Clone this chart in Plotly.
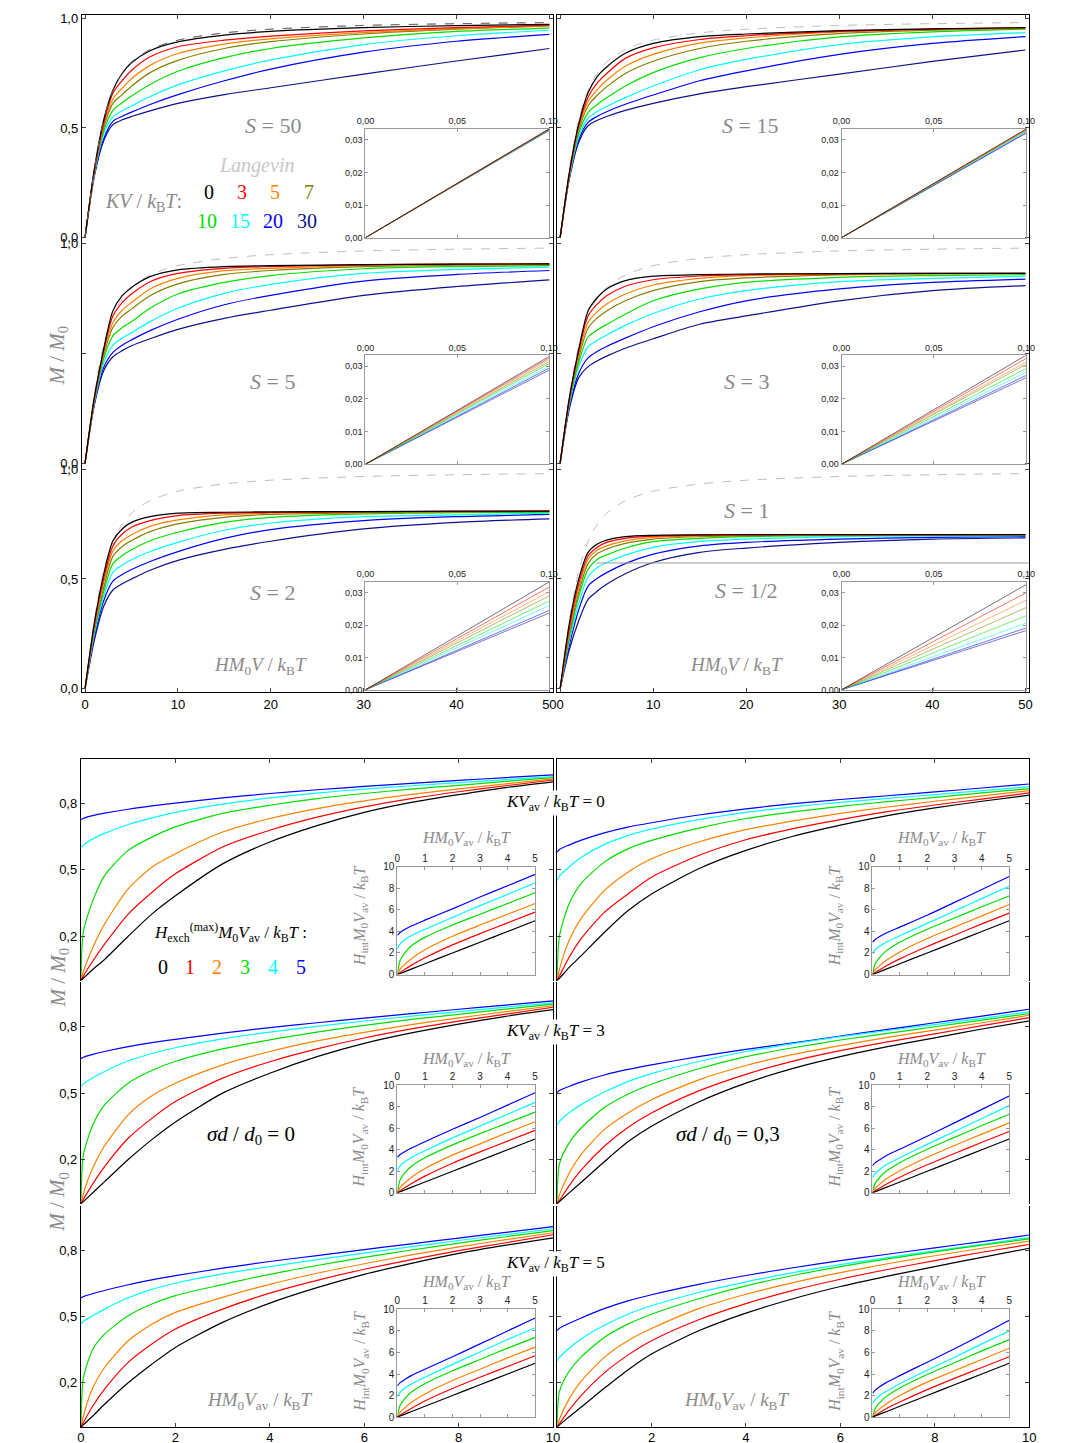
import plotly.graph_objects as go

# Figure size; page pixels of the target are mapped onto figure pixels below.
W, H = 1066, 1449
SCALE = 0.985   # page-to-photo scale observed for this viewer
OFF = 8         # default html body margin

# ---------------- top block data (M/M0 vs HM0V/kBT) ----------------
XT = [0, 1, 2, 3, 4, 5, 7, 10, 15, 20, 30, 40, 50]
KV_LABELS = ["0", "3", "5", "7", "10", "15", "20", "30"]
KV_COLORS = ["#000000", "#ff0000", "#ff8000", "#808000", "#00e000", "#00ffff", "#0000ff", "#10108c"]
LANGEVIN = [0, 0.313, 0.537, 0.672, 0.75, 0.8, 0.857, 0.9, 0.933, 0.95, 0.967, 0.975, 0.98]

S50 = [
    [0, 0.312, 0.535, 0.672, 0.749, 0.797, 0.852, 0.892, 0.923, 0.94, 0.957, 0.966, 0.972],
    [0, 0.305, 0.52, 0.658, 0.716, 0.762, 0.824, 0.87, 0.9, 0.918, 0.942, 0.957, 0.968],
    [0, 0.30, 0.51, 0.632, 0.681, 0.724, 0.785, 0.839, 0.882, 0.906, 0.934, 0.952, 0.966],
    [0, 0.30, 0.50, 0.612, 0.652, 0.69, 0.752, 0.808, 0.862, 0.893, 0.928, 0.95, 0.965],
    [0, 0.295, 0.485, 0.58, 0.615, 0.645, 0.698, 0.758, 0.82, 0.862, 0.91, 0.94, 0.955],
    [0, 0.29, 0.47, 0.55, 0.578, 0.60, 0.643, 0.696, 0.76, 0.81, 0.88, 0.92, 0.945],
    [0, 0.285, 0.45, 0.53, 0.553, 0.572, 0.607, 0.652, 0.715, 0.768, 0.845, 0.895, 0.926],
    [0, 0.28, 0.44, 0.515, 0.537, 0.552, 0.578, 0.612, 0.652, 0.683, 0.745, 0.805, 0.862],
]
S15 = [
    [0, 0.30, 0.52, 0.66, 0.735, 0.778, 0.84, 0.885, 0.916, 0.928, 0.943, 0.951, 0.957],
    [0, 0.295, 0.51, 0.64, 0.705, 0.748, 0.817, 0.865, 0.903, 0.92, 0.94, 0.95, 0.957],
    [0, 0.29, 0.50, 0.62, 0.675, 0.717, 0.781, 0.835, 0.886, 0.91, 0.937, 0.949, 0.956],
    [0, 0.29, 0.49, 0.60, 0.65, 0.687, 0.748, 0.804, 0.862, 0.895, 0.93, 0.945, 0.954],
    [0, 0.285, 0.475, 0.57, 0.607, 0.637, 0.691, 0.752, 0.82, 0.862, 0.915, 0.938, 0.95],
    [0, 0.28, 0.46, 0.543, 0.575, 0.598, 0.638, 0.691, 0.765, 0.812, 0.88, 0.915, 0.934],
    [0, 0.275, 0.445, 0.525, 0.553, 0.574, 0.608, 0.65, 0.715, 0.76, 0.835, 0.885, 0.916],
    [0, 0.27, 0.435, 0.51, 0.535, 0.552, 0.58, 0.612, 0.655, 0.688, 0.745, 0.803, 0.855],
]
S5 = [
    [0, 0.30, 0.52, 0.694, 0.763, 0.801, 0.85, 0.881, 0.896, 0.9, 0.905, 0.907, 0.908],
    [0, 0.295, 0.51, 0.671, 0.732, 0.771, 0.827, 0.865, 0.888, 0.896, 0.904, 0.907, 0.908],
    [0, 0.29, 0.50, 0.64, 0.697, 0.732, 0.794, 0.842, 0.877, 0.888, 0.901, 0.906, 0.908],
    [0, 0.285, 0.49, 0.618, 0.671, 0.702, 0.763, 0.817, 0.86, 0.878, 0.896, 0.902, 0.905],
    [0, 0.28, 0.475, 0.58, 0.618, 0.645, 0.706, 0.771, 0.824, 0.855, 0.886, 0.896, 0.9],
    [0, 0.275, 0.455, 0.538, 0.57, 0.595, 0.645, 0.706, 0.774, 0.815, 0.865, 0.883, 0.893],
    [0, 0.27, 0.435, 0.505, 0.538, 0.562, 0.604, 0.656, 0.722, 0.765, 0.83, 0.86, 0.878],
    [0, 0.265, 0.42, 0.485, 0.513, 0.535, 0.567, 0.61, 0.66, 0.697, 0.765, 0.805, 0.835],
]
S3 = [
    [0, 0.30, 0.52, 0.694, 0.755, 0.794, 0.832, 0.852, 0.859, 0.862, 0.864, 0.865, 0.865],
    [0, 0.295, 0.51, 0.671, 0.726, 0.763, 0.806, 0.836, 0.853, 0.859, 0.863, 0.865, 0.865],
    [0, 0.29, 0.495, 0.641, 0.69, 0.725, 0.771, 0.812, 0.842, 0.855, 0.862, 0.864, 0.865],
    [0, 0.285, 0.48, 0.615, 0.662, 0.694, 0.74, 0.786, 0.827, 0.844, 0.858, 0.863, 0.865],
    [0, 0.28, 0.46, 0.575, 0.607, 0.632, 0.679, 0.74, 0.794, 0.824, 0.847, 0.855, 0.859],
    [0, 0.27, 0.44, 0.53, 0.56, 0.584, 0.628, 0.682, 0.748, 0.786, 0.827, 0.842, 0.852],
    [0, 0.26, 0.41, 0.48, 0.51, 0.532, 0.57, 0.622, 0.69, 0.74, 0.794, 0.824, 0.839],
    [0, 0.25, 0.39, 0.44, 0.467, 0.488, 0.524, 0.567, 0.633, 0.671, 0.74, 0.786, 0.809],
]
S2 = [
    [0, 0.30, 0.52, 0.674, 0.728, 0.758, 0.784, 0.80, 0.804, 0.806, 0.807, 0.809, 0.809],
    [0, 0.29, 0.50, 0.651, 0.705, 0.736, 0.766, 0.789, 0.80, 0.803, 0.806, 0.808, 0.809],
    [0, 0.28, 0.48, 0.628, 0.674, 0.702, 0.74, 0.769, 0.792, 0.80, 0.805, 0.807, 0.809],
    [0, 0.27, 0.46, 0.603, 0.648, 0.675, 0.716, 0.751, 0.781, 0.794, 0.802, 0.806, 0.808],
    [0, 0.26, 0.44, 0.57, 0.607, 0.633, 0.674, 0.713, 0.758, 0.781, 0.797, 0.802, 0.804],
    [0, 0.25, 0.42, 0.53, 0.563, 0.588, 0.625, 0.667, 0.722, 0.755, 0.784, 0.792, 0.80],
    [0, 0.235, 0.40, 0.49, 0.52, 0.543, 0.58, 0.625, 0.685, 0.725, 0.766, 0.784, 0.794],
    [0, 0.22, 0.375, 0.45, 0.478, 0.5, 0.54, 0.585, 0.635, 0.672, 0.728, 0.758, 0.774],
]
S1 = [
    [0, 0.30, 0.50, 0.621, 0.659, 0.677, 0.693, 0.699, 0.701, 0.702, 0.702, 0.702, 0.702],
    [0, 0.28, 0.48, 0.605, 0.645, 0.667, 0.685, 0.695, 0.70, 0.701, 0.702, 0.702, 0.702],
    [0, 0.265, 0.46, 0.59, 0.632, 0.651, 0.674, 0.69, 0.696, 0.70, 0.701, 0.702, 0.702],
    [0, 0.25, 0.44, 0.57, 0.616, 0.636, 0.662, 0.682, 0.693, 0.698, 0.70, 0.701, 0.702],
    [0, 0.235, 0.42, 0.544, 0.59, 0.61, 0.641, 0.67, 0.685, 0.693, 0.698, 0.70, 0.701],
    [0, 0.22, 0.39, 0.509, 0.552, 0.575, 0.609, 0.644, 0.671, 0.682, 0.693, 0.696, 0.697],
    [0, 0.20, 0.36, 0.468, 0.503, 0.529, 0.57, 0.613, 0.651, 0.667, 0.682, 0.69, 0.693],
    [0, 0.18, 0.31, 0.407, 0.445, 0.476, 0.524, 0.575, 0.621, 0.641, 0.667, 0.682, 0.687],
]

# inset lines (initial slope region), value reached at x = 0.10
INS_X = [0.0, 0.10]
INS_END_S50 = [0.0333, 0.0333, 0.0332, 0.0332, 0.0331, 0.0330, 0.0330, 0.0328]
INS_END_S15 = [0.0333, 0.0332, 0.0330, 0.0329, 0.0327, 0.0325, 0.0322, 0.0320]
INS_END_S5 = [0.0330, 0.0325, 0.0320, 0.0314, 0.0308, 0.0300, 0.0294, 0.0288]
INS_END_S3 = [0.0334, 0.0324, 0.0313, 0.0306, 0.0293, 0.0282, 0.0272, 0.0265]
INS_END_S2 = [0.0333, 0.0317, 0.0303, 0.0290, 0.0274, 0.0260, 0.0245, 0.0237]
INS_END_S1 = [0.0325, 0.0300, 0.0277, 0.0254, 0.0229, 0.0206, 0.0191, 0.0183]

# ---------------- bottom block data ----------------
XB = [0, 0.05, 0.25, 0.5, 1, 1.5, 2, 3, 4, 5, 6, 7, 8, 9, 10]
HEX_LABELS = ["0", "1", "2", "3", "4", "5"]
HEX_COLORS = ["#000000", "#ff0000", "#ff8000", "#00dd00", "#00ffff", "#0000ff"]

B_K0_S0 = [
    [0, 0.01, 0.05, 0.095, 0.2, 0.3, 0.383, 0.527, 0.626, 0.70, 0.76, 0.805, 0.84, 0.872, 0.898],
    [0, 0.02, 0.088, 0.164, 0.3, 0.398, 0.482, 0.603, 0.679, 0.738, 0.785, 0.822, 0.853, 0.88, 0.906],
    [0, 0.04, 0.148, 0.255, 0.414, 0.512, 0.573, 0.671, 0.732, 0.777, 0.812, 0.841, 0.866, 0.889, 0.911],
    [0, 0.22, 0.36, 0.474, 0.588, 0.648, 0.694, 0.755, 0.792, 0.822, 0.845, 0.865, 0.882, 0.9, 0.917],
    [0.6, 0.612, 0.64, 0.665, 0.705, 0.735, 0.76, 0.797, 0.825, 0.847, 0.865, 0.88, 0.894, 0.908, 0.921],
    [0.727, 0.733, 0.745, 0.756, 0.774, 0.789, 0.802, 0.825, 0.845, 0.862, 0.877, 0.891, 0.904, 0.917, 0.929],
]
B_K0_S03 = [
    [0, 0.01, 0.058, 0.11, 0.217, 0.315, 0.391, 0.505, 0.588, 0.652, 0.702, 0.745, 0.78, 0.81, 0.838],
    [0, 0.02, 0.103, 0.186, 0.308, 0.391, 0.467, 0.565, 0.636, 0.686, 0.727, 0.763, 0.793, 0.82, 0.848],
    [0, 0.05, 0.179, 0.277, 0.406, 0.489, 0.55, 0.626, 0.682, 0.721, 0.755, 0.784, 0.81, 0.834, 0.858],
    [0, 0.2, 0.345, 0.436, 0.535, 0.595, 0.633, 0.689, 0.732, 0.762, 0.787, 0.808, 0.828, 0.848, 0.867],
    [0.452, 0.472, 0.512, 0.555, 0.615, 0.655, 0.684, 0.727, 0.76, 0.785, 0.805, 0.823, 0.84, 0.858, 0.876],
    [0.58, 0.592, 0.612, 0.633, 0.667, 0.693, 0.713, 0.748, 0.776, 0.799, 0.818, 0.835, 0.852, 0.87, 0.888],
]
B_K3_S0 = [
    [0, 0.01, 0.05, 0.1, 0.2, 0.29, 0.37, 0.5, 0.59, 0.665, 0.725, 0.772, 0.812, 0.847, 0.877],
    [0, 0.02, 0.09, 0.168, 0.296, 0.386, 0.462, 0.568, 0.642, 0.7, 0.749, 0.79, 0.825, 0.857, 0.888],
    [0, 0.045, 0.163, 0.262, 0.402, 0.488, 0.545, 0.628, 0.688, 0.736, 0.775, 0.81, 0.84, 0.868, 0.895],
    [0, 0.22, 0.356, 0.447, 0.545, 0.602, 0.644, 0.7, 0.741, 0.776, 0.806, 0.833, 0.856, 0.88, 0.902],
    [0.53, 0.542, 0.57, 0.598, 0.645, 0.679, 0.705, 0.745, 0.776, 0.802, 0.826, 0.848, 0.868, 0.889, 0.908],
    [0.655, 0.662, 0.675, 0.688, 0.71, 0.728, 0.743, 0.771, 0.796, 0.818, 0.839, 0.859, 0.879, 0.898, 0.917],
]
B_K3_S03 = [
    [0, 0.01, 0.048, 0.095, 0.19, 0.28, 0.35, 0.46, 0.545, 0.612, 0.665, 0.71, 0.75, 0.79, 0.826],
    [0, 0.015, 0.08, 0.15, 0.26, 0.345, 0.41, 0.51, 0.585, 0.645, 0.692, 0.732, 0.768, 0.805, 0.841],
    [0, 0.04, 0.136, 0.22, 0.335, 0.41, 0.47, 0.56, 0.625, 0.675, 0.715, 0.752, 0.785, 0.818, 0.852],
    [0, 0.18, 0.273, 0.34, 0.435, 0.495, 0.54, 0.61, 0.665, 0.705, 0.74, 0.77, 0.8, 0.83, 0.859],
    [0.356, 0.372, 0.41, 0.447, 0.505, 0.552, 0.588, 0.643, 0.688, 0.724, 0.755, 0.783, 0.81, 0.838, 0.867],
    [0.503, 0.512, 0.53, 0.55, 0.582, 0.607, 0.628, 0.665, 0.698, 0.727, 0.758, 0.788, 0.818, 0.848, 0.879],
]
B_K5_S0 = [
    [0, 0.01, 0.05, 0.103, 0.2, 0.284, 0.36, 0.473, 0.56, 0.63, 0.69, 0.74, 0.785, 0.822, 0.855],
    [0, 0.02, 0.095, 0.171, 0.292, 0.375, 0.443, 0.533, 0.605, 0.663, 0.713, 0.757, 0.797, 0.833, 0.869],
    [0, 0.05, 0.178, 0.269, 0.39, 0.465, 0.518, 0.586, 0.645, 0.695, 0.738, 0.778, 0.814, 0.847, 0.878],
    [0, 0.22, 0.352, 0.42, 0.503, 0.556, 0.594, 0.644, 0.69, 0.73, 0.767, 0.8, 0.831, 0.86, 0.888],
    [0.465, 0.478, 0.503, 0.533, 0.584, 0.622, 0.65, 0.692, 0.725, 0.757, 0.786, 0.815, 0.843, 0.87, 0.896],
    [0.583, 0.59, 0.603, 0.617, 0.643, 0.665, 0.684, 0.718, 0.748, 0.775, 0.802, 0.828, 0.854, 0.88, 0.906],
]
B_K5_S03 = [
    [0, 0.01, 0.045, 0.088, 0.175, 0.258, 0.33, 0.435, 0.515, 0.58, 0.635, 0.682, 0.725, 0.767, 0.808],
    [0, 0.015, 0.075, 0.14, 0.245, 0.325, 0.39, 0.485, 0.558, 0.618, 0.668, 0.712, 0.752, 0.79, 0.825],
    [0, 0.035, 0.125, 0.205, 0.315, 0.39, 0.445, 0.535, 0.6, 0.653, 0.698, 0.738, 0.774, 0.808, 0.84],
    [0, 0.16, 0.25, 0.315, 0.405, 0.465, 0.51, 0.58, 0.638, 0.685, 0.725, 0.76, 0.792, 0.822, 0.85],
    [0.3, 0.315, 0.355, 0.397, 0.46, 0.51, 0.548, 0.608, 0.656, 0.698, 0.734, 0.766, 0.796, 0.826, 0.856],
    [0.436, 0.446, 0.468, 0.492, 0.535, 0.57, 0.598, 0.645, 0.685, 0.72, 0.752, 0.781, 0.81, 0.838, 0.868],
]

# bottom insets: Hint M0 Vav / kBT vs H M0 Vav / kBT
XI = [0, 0.1, 0.25, 0.5, 1, 2, 3, 4, 5]
I_K0_S0 = [
    [0, 0.1, 0.25, 0.5, 1, 2, 3, 4, 5],
    [0, 0.2, 0.45, 0.85, 1.55, 2.75, 3.8, 4.8, 5.8],
    [0, 0.5, 0.9, 1.45, 2.3, 3.55, 4.6, 5.6, 6.6],
    [0, 1.3, 1.95, 2.65, 3.45, 4.6, 5.6, 6.6, 7.6],
    [2.4, 2.85, 3.2, 3.6, 4.2, 5.3, 6.4, 7.45, 8.5],
    [3.65, 3.9, 4.15, 4.5, 5.05, 6.1, 7.2, 8.25, 9.3],
]
I_K0_S03 = [
    [0, 0.1, 0.25, 0.5, 1, 2, 3, 4, 5],
    [0, 0.18, 0.42, 0.8, 1.45, 2.6, 3.65, 4.7, 5.7],
    [0, 0.45, 0.8, 1.3, 2.1, 3.35, 4.4, 5.45, 6.5],
    [0, 1.0, 1.55, 2.2, 3.0, 4.2, 5.25, 6.3, 7.3],
    [1.9, 2.3, 2.6, 3.0, 3.6, 4.75, 5.9, 7.05, 8.2],
    [3.0, 3.25, 3.5, 3.85, 4.4, 5.5, 6.7, 7.9, 9.1],
]
I_K3_S0 = [
    [0, 0.1, 0.25, 0.5, 1, 2, 3, 4, 5],
    [0, 0.2, 0.45, 0.85, 1.55, 2.75, 3.8, 4.8, 5.8],
    [0, 0.5, 0.88, 1.42, 2.25, 3.5, 4.55, 5.6, 6.6],
    [0, 1.2, 1.8, 2.45, 3.25, 4.45, 5.5, 6.5, 7.5],
    [2.1, 2.5, 2.85, 3.25, 3.9, 5.1, 6.2, 7.3, 8.4],
    [3.3, 3.55, 3.8, 4.15, 4.75, 5.9, 7.0, 8.15, 9.3],
]
I_K3_S03 = [
    [0, 0.1, 0.25, 0.5, 1, 2, 3, 4, 5],
    [0, 0.18, 0.42, 0.8, 1.45, 2.6, 3.65, 4.7, 5.7],
    [0, 0.42, 0.78, 1.28, 2.05, 3.3, 4.4, 5.45, 6.5],
    [0, 0.9, 1.4, 2.0, 2.8, 4.05, 5.15, 6.25, 7.3],
    [1.4, 1.8, 2.15, 2.6, 3.25, 4.5, 5.7, 6.9, 8.1],
    [2.5, 2.8, 3.05, 3.45, 4.05, 5.25, 6.5, 7.75, 9.0],
]
I_K5_S0 = [
    [0, 0.1, 0.25, 0.5, 1, 2, 3, 4, 5],
    [0, 0.18, 0.42, 0.8, 1.5, 2.65, 3.7, 4.7, 5.7],
    [0, 0.45, 0.82, 1.35, 2.15, 3.4, 4.45, 5.5, 6.5],
    [0, 1.1, 1.65, 2.3, 3.1, 4.3, 5.35, 6.4, 7.4],
    [1.9, 2.3, 2.65, 3.05, 3.7, 4.9, 6.05, 7.2, 8.3],
    [2.9, 3.2, 3.45, 3.85, 4.45, 5.6, 6.8, 8.0, 9.2],
]
I_K5_S03 = [
    [0, 0.1, 0.25, 0.5, 1, 2, 3, 4, 5],
    [0, 0.17, 0.4, 0.78, 1.4, 2.55, 3.6, 4.6, 5.6],
    [0, 0.4, 0.74, 1.22, 2.0, 3.25, 4.3, 5.35, 6.4],
    [0, 0.8, 1.3, 1.9, 2.7, 3.95, 5.05, 6.15, 7.2],
    [1.2, 1.6, 1.95, 2.4, 3.1, 4.35, 5.55, 6.8, 8.0],
    [2.2, 2.5, 2.8, 3.2, 3.85, 5.1, 6.35, 7.65, 9.0],
]

# ---------------- layout helpers (target pixel -> figure domain) ----------------
def vy(p):
    # slight squeeze of the lower block so its bottom tick labels stay inside the figure
    return 756 + (p - 756) * 0.99 if p > 756 else p


def fx(p):
    return p / SCALE - OFF


def fy(p):
    return vy(p) / SCALE - OFF


def dx(p0, p1):
    return [fx(p0) / W, fx(p1) / W]


def dy(top, bot):
    return [1 - fy(bot) / H, 1 - fy(top) / H]


def px(x):
    return fx(x) / W


def py(y):
    return 1 - fy(y) / H


fig = go.Figure()
layout = {}
TICKFONT = dict(family="Liberation Sans, Arial, sans-serif", size=13, color="#000")
INSFONT = dict(family="Liberation Sans, Arial, sans-serif", size=9, color="#222")
INSFONT2 = dict(family="Liberation Sans, Arial, sans-serif", size=10, color="#222")
GRAY_T = "#8a8a8a"
SERIF = "Liberation Serif, Times New Roman, serif"

top_cols = [(81, 553), (557, 1030)]
top_rows = [(17, 241), (241, 465), (465, 689)]
top_panels = [S50, S15, S5, S3, S2, S1]
top_ins = [INS_END_S50, INS_END_S15, INS_END_S5, INS_END_S3, INS_END_S2, INS_END_S1]
top_ins_cols = [(365, 549), (842, 1027)]
top_ins_rows = [(130, 238), (355, 463), (580, 687)]


def ax(n):
    return ("xaxis" if n == 1 else f"xaxis{n}", "yaxis" if n == 1 else f"yaxis{n}",
            "x" if n == 1 else f"x{n}", "y" if n == 1 else f"y{n}")


# top main panels: axes 1..6
for i, data in enumerate(top_panels):
    n = i + 1
    r, c = divmod(i, 2)
    xa, ya, xr, yr = ax(n)
    layout[xa] = dict(domain=dx(*top_cols[c]), range=[-0.33, 50.4], anchor=yr,
                      showgrid=False, zeroline=False, ticks=("" if r == 1 else "inside"), ticklen=4,
                      tickvals=[0, 10, 20, 30, 40, 50], tickformat="d",
                      linecolor="#000", linewidth=1.3, tickfont=TICKFONT,
                      showline=(r != 1), side=("top" if r == 0 else "bottom"),
                      showticklabels=(r == 2))
    ylabels = ["0,0", "0,5", "1,0"] if r != 1 else ["0,0", " ", "1,0"]
    layout[ya] = dict(domain=dy(*top_rows[r]), range=[-0.0137, 1.0137], anchor=xr,
                      showgrid=False, zeroline=False, ticks="inside", ticklen=4,
                      tickvals=[0, 0.5, 1.0], ticktext=ylabels, showline=True,
                      mirror="ticks", linecolor="#000", linewidth=1.3,
                      tickfont=TICKFONT, showticklabels=(c == 0))
    fig.add_trace(go.Scatter(x=XT, y=LANGEVIN, xaxis=xr, yaxis=yr, mode="lines",
                             line=dict(color="#bdbdbd", width=1, dash="dash", shape="spline", smoothing=0.8),
                             hoverinfo="skip", showlegend=False))
    for k in range(len(KV_LABELS) - 1, -1, -1):
        fig.add_trace(go.Scatter(x=XT, y=data[k], xaxis=xr, yaxis=yr, mode="lines",
                                 line=dict(color=KV_COLORS[k], width=1.2, shape="spline", smoothing=0.8),
                                 hoverinfo="skip", showlegend=False))
    if i == 0:
        fig.add_trace(go.Scatter(x=XT, y=LANGEVIN, xaxis=xr, yaxis=yr, mode="lines",
                                 line=dict(color="#666", width=1, dash="dash", shape="spline", smoothing=0.8),
                                 hoverinfo="skip", showlegend=False))

# top insets: axes 7..12
for i, ends in enumerate(top_ins):
    n = i + 7
    r, c = divmod(i, 2)
    xa, ya, xr, yr = ax(n)
    layout[xa] = dict(domain=dx(*top_ins_cols[c]), range=[0, 0.1], anchor=yr, side="top",
                      showgrid=False, zeroline=False, ticks="inside", ticklen=3,
                      tickvals=[0, 0.05, 0.1], tickformat=".2f", showline=True, mirror="ticks",
                      linecolor="#999", tickcolor="#999", linewidth=1, tickfont=INSFONT)
    layout[ya] = dict(domain=dy(*top_ins_rows[r]), range=[0, 0.0333], anchor=xr,
                      showgrid=False, zeroline=False, ticks="inside", ticklen=3,
                      tickvals=[0, 0.01, 0.02, 0.03], tickformat=".2f", showline=True,
                      mirror="ticks", linecolor="#999", tickcolor="#999", linewidth=1,
                      tickfont=INSFONT)
    for k in range(len(KV_LABELS) - 1, -1, -1):
        fig.add_trace(go.Scatter(x=INS_X, y=[0, ends[k]], xaxis=xr, yaxis=yr, mode="lines",
                                 line=dict(color=KV_COLORS[k], width=1), opacity=0.55,
                                 hoverinfo="skip", showlegend=False))

# bottom main panels: axes 13..18
bot_cols = [(80, 553), (557, 1030)]
bot_rows = [(756, 978), (980, 1202), (1204, 1426)]
bot_panels = [B_K0_S0, B_K0_S03, B_K3_S0, B_K3_S03, B_K5_S0, B_K5_S03]
bot_ins = [I_K0_S0, I_K0_S03, I_K3_S0, I_K3_S03, I_K5_S0, I_K5_S03]
bot_ins_cols = [(397, 535), (873, 1010)]
bot_ins_rows = [(864, 972), (1083, 1191), (1308, 1416)]

for i, data in enumerate(bot_panels):
    n = i + 13
    r, c = divmod(i, 2)
    xa, ya, xr, yr = ax(n)
    xt = ["0", "2", "4", "6", "8", "10"] if c == 0 else [" ", "2", "4", "6", "8", "10"]
    layout[xa] = dict(domain=dx(*bot_cols[c]), range=[0, 10], anchor=yr,
                      showgrid=False, zeroline=False, ticks=("" if r == 1 else "inside"), ticklen=4,
                      tickvals=[0, 2, 4, 6, 8, 10], ticktext=xt,
                      linecolor="#000", linewidth=1.3, tickfont=TICKFONT,
                      showline=(r != 1), side=("top" if r == 0 else "bottom"),
                      showticklabels=(r == 2))
    if r == 2:
        layout[xa]["ticklabelstandoff"] = -2
    layout[ya] = dict(domain=dy(*bot_rows[r]), range=[0, 1.0], anchor=xr,
                      showgrid=False, zeroline=False, ticks="inside", ticklen=4,
                      tickvals=[0.2, 0.5, 0.8], tickformat=".1f", showline=True,
                      mirror="ticks", linecolor="#000", linewidth=1.3,
                      tickfont=TICKFONT, showticklabels=(c == 0))
    for k in range(len(HEX_LABELS) - 1, -1, -1):
        fig.add_trace(go.Scatter(x=XB, y=data[k], xaxis=xr, yaxis=yr, mode="lines",
                                 line=dict(color=HEX_COLORS[k], width=1.2, shape="spline", smoothing=0.7),
                                 hoverinfo="skip", showlegend=False))

for i, data in enumerate(bot_ins):
    n = i + 19
    r, c = divmod(i, 2)
    xa, ya, xr, yr = ax(n)
    layout[xa] = dict(domain=dx(*bot_ins_cols[c]), range=[0, 5], anchor=yr, side="top",
                      showgrid=False, zeroline=False, ticks="inside", ticklen=3,
                      tickvals=[0, 1, 2, 3, 4, 5], showline=True, mirror="ticks",
                      linecolor="#999", tickcolor="#999", linewidth=1, tickfont=INSFONT2)
    layout[ya] = dict(domain=dy(*bot_ins_rows[r]), range=[0, 10], anchor=xr,
                      showgrid=False, zeroline=False, ticks="inside", ticklen=3,
                      tickvals=[0, 2, 4, 6, 8, 10], showline=True, mirror="ticks",
                      linecolor="#999", tickcolor="#999", linewidth=1, tickfont=INSFONT2)
    for k in range(len(HEX_LABELS) - 1, -1, -1):
        fig.add_trace(go.Scatter(x=XI, y=data[k], xaxis=xr, yaxis=yr, mode="lines",
                                 line=dict(color=HEX_COLORS[k], width=1.2, shape="spline", smoothing=0.7),
                                 hoverinfo="skip", showlegend=False))

# ---------------- annotations ----------------
ann = []


def T(x, y, text, size=20, color=GRAY_T, angle=0, bg=None, family=SERIF):
    d = dict(x=px(x), y=py(y), xref="paper", yref="paper", text=text, showarrow=False,
             xanchor="center", yanchor="middle", textangle=angle,
             font=dict(family=family, size=size, color=color))
    if bg:
        d["bgcolor"] = bg
    ann.append(d)


T(272, 127, "<i>S</i> = 50", 22)
T(256, 166, "<i>Langevin</i>", 20, "#c8c8c8")
T(143, 203, "<i>KV</i> / <i>k</i><sub>B</sub><i>T</i>:", 20)
for j, (xx, yy) in enumerate([(208, 193), (241, 193), (274, 193), (308, 193),
                              (206, 221), (239, 221), (272, 221), (306, 221)]):
    T(xx, yy, KV_LABELS[j], 20, KV_COLORS[j])
T(750, 127, "<i>S</i> = 15", 22)
T(272, 381, "<i>S</i> = 5", 22)
T(747, 381, "<i>S</i> = 3", 22)
T(272, 590, "<i>S</i> = 2", 22)
T(747, 509, "<i>S</i> = 1", 22)
T(747, 588, "<i>S</i> = 1/2", 22)
T(260, 663, "<i>HM</i><sub>0</sub><i>V</i> / <i>k</i><sub>B</sub><i>T</i>", 19)
T(737, 663, "<i>HM</i><sub>0</sub><i>V</i> / <i>k</i><sub>B</sub><i>T</i>", 19)
T(57, 355, "<i>M</i> / <i>M</i><sub>0</sub>", 21, angle=-90)
T(57, 975, "<i>M</i> / <i>M</i><sub>0</sub>", 21, angle=-90)
T(57, 1200, "<i>M</i> / <i>M</i><sub>0</sub>", 21, angle=-90)

kv_eq = "<i>KV</i><sub>av</sub> / <i>k</i><sub>B</sub><i>T</i> = "
T(555, 800, kv_eq + "0", 17, "#000", bg="white")
T(555, 1030, kv_eq + "3", 17, "#000", bg="white")
T(555, 1262, kv_eq + "5", 17, "#000", bg="white")
T(230, 930, "<i>H</i><sub>exch</sub><sup>(max)</sup><i>M</i><sub>0</sub><i>V</i><sub>av</sub> / <i>k</i><sub>B</sub><i>T</i> :", 17, "#000")
for j, xx in enumerate([162, 189, 216, 244, 272, 300]):
    T(xx, 964, HEX_LABELS[j], 20, HEX_COLORS[j])
T(250, 1133, "<i>σd</i> / <i>d</i><sub>0</sub> = 0", 21, "#000")
T(728, 1133, "<i>σd</i> / <i>d</i><sub>0</sub> = 0,3", 21, "#000")
hm = "<i>HM</i><sub>0</sub><i>V</i><sub>av</sub> / <i>k</i><sub>B</sub><i>T</i>"
T(259, 1400, hm, 19)
T(737, 1400, hm, 19)
hint = "<i>H</i><sub>int</sub><i>M</i><sub>0</sub><i>V</i><sub>av</sub> / <i>k</i><sub>B</sub><i>T</i>"
for (xx, yy) in [(466, 836), (942, 836), (466, 1057), (942, 1057), (466, 1281), (942, 1281)]:
    T(xx, yy, hm, 16)
for (xx, yy) in [(360, 913), (836, 913), (360, 1135), (836, 1135), (360, 1360), (836, 1360)]:
    T(xx, yy, hint, 16, angle=-90)

shapes = [dict(type="line", xref="x6", yref="y6", x0=3.9, x1=50.4, y0=0.573, y1=0.573,
               line=dict(color="#999", width=1))]

layout.update(dict(width=W, height=H, margin=dict(l=0, r=0, t=0, b=0),
                   paper_bgcolor="white", plot_bgcolor="rgba(0,0,0,0)", separators=", ",
                   showlegend=False, annotations=ann, shapes=shapes))
fig.update_layout(**layout)
fig.write_html("out.html")
